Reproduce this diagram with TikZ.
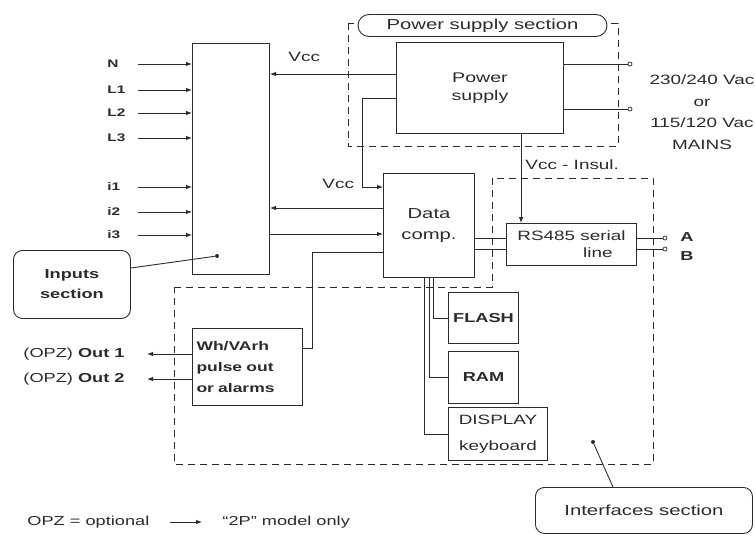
\documentclass[tikz,border=0pt]{standalone}
\usepackage{fontspec}
\setmainfont{Liberation Sans}[FakeStretch=1.4]
\usetikzlibrary{arrows.meta}
\definecolor{ink}{HTML}{2b2b2b}
\begin{document}
\begin{tikzpicture}[x=1pt,y=-1pt,
  font=\fontsize{13.5}{16}\selectfont, text=ink, draw=ink, line width=0.9pt,
  box/.style={draw=ink, line width=1pt, inner sep=0pt, anchor=north west},
  arr/.style={-{Latex[length=6pt,width=4.5pt]}},
  sect/.style={draw=ink, line width=0.8pt, dash pattern=on 7pt off 5pt},
  callout/.style={draw=ink, line width=0.9pt, rounded corners=9pt, inner sep=0pt, anchor=north west, fill=white},
  lbl/.style={inner sep=0pt, anchor=west},
  term/.style={circle, draw=ink, fill=white, inner sep=0pt, minimum size=4pt, line width=0.7pt},
  dotn/.style={circle, fill=ink, inner sep=0pt, minimum size=4pt}]
\useasboundingbox (0,0) rectangle (755,536);

% section outlines
\draw[sect] (348,23) rectangle (618,146);
\draw[sect] (174,287) -- (492,287) -- (492,178) -- (653,178) -- (653,464) -- (174,464) -- cycle;
\node[draw=ink, line width=0.9pt, rounded corners=11pt, fill=white, minimum width=249pt, minimum height=22pt, inner sep=0pt, font=\fontsize{14.5}{16}\selectfont] (pss) at (482.5,25.5) {Power supply section};

% blocks
\node[box, minimum width=77pt, minimum height=231pt] (inp) at (192,43) {};
\node[box, minimum width=167pt, minimum height=91pt, align=center, font=\fontsize{14}{18}\selectfont] (ps) at (396,42) {Power\\supply};
\node[box, minimum width=91pt, minimum height=104pt, align=center, font=\fontsize{14.5}{21}\selectfont] (dc) at (383,173) {Data\\comp.};
\node[box, minimum width=130pt, minimum height=42pt, align=right, inner xsep=8pt, font=\fontsize{13.5}{17}\selectfont] (rs) at (506,223) {RS485 serial\\line\hspace*{13pt}};
\node[box, minimum width=110pt, minimum height=77pt, align=left, text width=102pt, inner xsep=4pt, font=\bfseries\fontsize{12.5}{21}\selectfont] (wh) at (192,328) {Wh/VArh\\pulse out\\or alarms};
\node[box, minimum width=70pt, minimum height=51pt, font=\bfseries\fontsize{13}{15}\selectfont] (fl) at (448,292) {FLASH};
\node[box, minimum width=70pt, minimum height=52pt, font=\bfseries\fontsize{13}{15}\selectfont] (ram) at (448,351) {RAM};
\node[box, minimum width=99pt, minimum height=53pt, align=center, font=\fontsize{13.5}{26}\selectfont] (disp) at (448,407) {DISPLAY\\keyboard};

% callouts
\node[callout, minimum width=117pt, minimum height=68pt, align=center, font=\bfseries\fontsize{13}{20}\selectfont] (ic) at (13,250) {Inputs\\section};
\node[callout, minimum width=217pt, minimum height=46pt, font=\fontsize{14.5}{16}\selectfont] (itf) at (535,487) {Interfaces section};
\node[dotn] (d1) at (217,256) {};
\node[dotn] (d2) at (593,442) {};
\draw (ic.east |- 0,268) -- (d1);
\draw (itf.north -| 613,0) -- (d2);

% input labels and arrows
\begin{scope}[font=\bfseries\fontsize{11}{13}\selectfont]
\node[lbl] (lN) at (107,64) {N};
\node[lbl] (lL1) at (107,90) {L1};
\node[lbl] (lL2) at (107,113) {L2};
\node[lbl] (lL3) at (107,138) {L3};
\node[lbl] (li1) at (107,187) {i1};
\node[lbl] (li2) at (107,212) {i2};
\node[lbl] (li3) at (107,235) {i3};
\end{scope}
\foreach \n in {lN,lL1,lL2,lL3,li1,li2,li3}
  \draw[arr] (\n.west) ++(31,0) -- (inp.west |- \n.west);

% power connections
\node[lbl] (vcc1) at (288,57) {Vcc};
\draw[arr] (ps.west |- 0,74) -- (inp.east |- 0,74);
\coordinate (j2) at (362,98);
\node[lbl] (vcc2) at (322,184) {Vcc};
\draw[arr] (ps.west |- j2) -- (j2) |- (dc.west |- 0,187);
\node[lbl] (vins) at (525,165) {Vcc - Insul.};
\draw[arr] (ps.south -| 521,0) -- (rs.north -| 521,0);

% mains
\node[term] (t1) at (630,64) {};
\node[term] (t2) at (630,109) {};
\draw (ps.east |- t1) -- (t1);
\draw (ps.east |- t2) -- (t2);
\node[align=center, inner sep=0pt, font=\fontsize{13.5}{21.5}\selectfont] (mains) at (702,112) {230/240 Vac\\or\\115/120 Vac\\MAINS};

% data comp <-> inputs
\draw[arr] (dc.west |- 0,208) -- (inp.east |- 0,208);
\draw[arr] (inp.east |- 0,234) -- (dc.west |- 0,234);
\coordinate (j1) at (312,348);
\draw (dc.west |- 0,252) -| (j1) -- (wh.east |- j1);

% data comp <-> RS485
\draw (dc.east |- 0,238) -- (rs.west |- 0,238);
\draw (dc.east |- 0,249) -- (rs.west |- 0,249);
\node[term] (tA) at (665,238) {};
\node[term] (tB) at (665,249) {};
\draw (rs.east |- tA) -- (tA);
\draw (rs.east |- tB) -- (tB);
\node[lbl, font=\bfseries\fontsize{13}{15}\selectfont] (lA) at (680,237) {A};
\node[lbl, font=\bfseries\fontsize{13}{15}\selectfont] (lB) at (680,256) {B};

% memory / display bus
\draw (dc.south -| 433,0) |- (fl.west);
\draw (dc.south -| 429,0) |- (ram.west);
\draw (dc.south -| 424,0) |- (disp.west);

% outputs
\node[lbl, font=\fontsize{13}{15}\selectfont] (o1) at (23,354) {(OPZ) \textbf{Out 1}};
\node[lbl, font=\fontsize{13}{15}\selectfont] (o2) at (23,379) {(OPZ) \textbf{Out 2}};
\draw[arr] (wh.west |- o1) -- ([xshift=22pt]o1.east);
\draw[arr] (wh.west |- o2) -- ([xshift=22pt]o2.east);

% legend
\node[lbl, font=\fontsize{13}{15}\selectfont] (leg1) at (27,522) {OPZ = optional};
\node[lbl, font=\fontsize{13}{15}\selectfont] (leg2) at (222,522) {``2P'' model only};
\draw[arr, shorten <=20pt, shorten >=20pt] (leg1.east) -- (leg2.west);
\end{tikzpicture}
\end{document}
